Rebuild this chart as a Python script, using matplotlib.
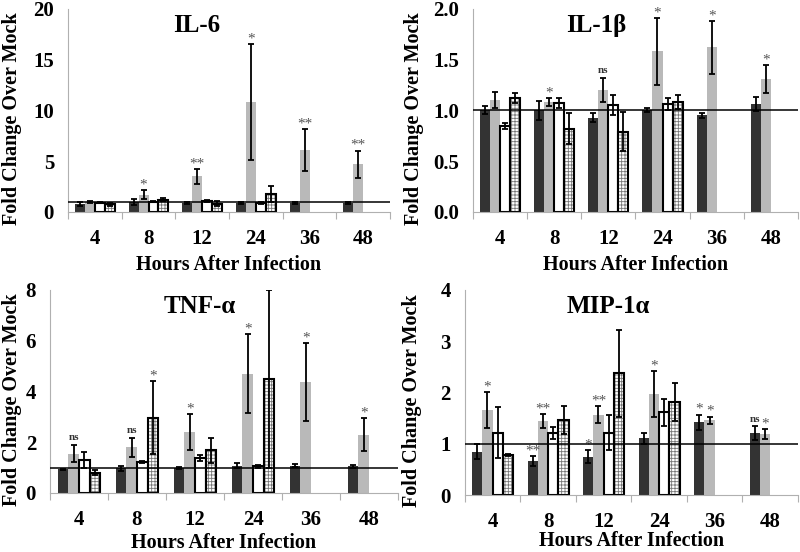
import numpy as np
import matplotlib.pyplot as plt

plt.rcParams['font.family'] = ['Liberation Serif', 'DejaVu Serif']

hours = ['4', '8', '12', '24', '36', '48']
nan = np.nan

# rows: dark, gray, white, hatched ; columns: hours
il6_mean = [[0.80, 1.00, 0.85, 0.85, 0.90, 0.90],
            [1.00, 1.70, 3.50, 10.8, 6.10, 4.70],
            [0.90, 1.00, 1.05, 0.90, nan, nan],
            [0.75, 1.20, 0.80, 1.75, nan, nan]]
il6_err = [[0.20, 0.30, 0.10, 0.10, 0.10, 0.10],
           [0.10, 0.45, 0.70, 5.70, 2.10, 1.35],
           [0.05, 0.05, 0.10, 0.10, nan, nan],
           [0.15, 0.15, 0.25, 0.80, nan, nan]]
il6_marks = [(1, 1, '*'), (2, 1, '**'), (3, 1, '*'), (4, 1, '**'), (5, 1, '**')]

il1b_mean = [[1.00, 1.00, 0.93, 1.00, 0.95, 1.06],
             [1.10, 1.08, 1.20, 1.58, 1.62, 1.31],
             [0.85, 1.07, 1.05, 1.06, nan, nan],
             [1.12, 0.82, 0.79, 1.08, nan, nan]]
il1b_err = [[0.04, 0.09, 0.04, 0.02, 0.02, 0.07],
            [0.08, 0.04, 0.12, 0.33, 0.26, 0.14],
            [0.03, 0.05, 0.10, 0.06, nan, nan],
            [0.05, 0.15, 0.19, 0.07, nan, nan]]
il1b_marks = [(1, 1, '*'), (2, 1, 'ns'), (3, 1, '*'), (4, 1, '*'), (5, 1, '*')]

tnf_mean = [[0.93, 0.98, 1.00, 1.08, 1.08, 1.05],
            [1.55, 1.80, 2.40, 4.70, 4.38, 2.30],
            [1.30, 1.22, 1.37, 1.05, nan, nan],
            [0.80, 2.97, 1.68, 4.50, nan, nan]]
tnf_err = [[0.03, 0.10, 0.04, 0.10, 0.06, 0.05],
           [0.35, 0.38, 0.70, 1.55, 1.53, 0.65],
           [0.30, 0.05, 0.13, 0.05, nan, nan],
           [0.10, 1.42, 0.50, 3.50, nan, nan]]
tnf_marks = [(0, 1, 'ns'), (1, 1, 'ns'), (1, 3, '*'), (2, 1, '*'), (3, 1, '*'),
             (4, 1, '*'), (5, 1, '*')]

mip_mean = [[0.85, 0.66, 0.75, 1.11, 1.42, 1.21],
            [1.65, 1.44, 1.57, 1.97, 1.46, 1.19],
            [1.22, 1.21, 1.22, 1.61, nan, nan],
            [0.78, 1.47, 2.37, 1.81, nan, nan]]
mip_err = [[0.15, 0.10, 0.13, 0.11, 0.15, 0.13],
           [0.35, 0.14, 0.17, 0.45, 0.07, 0.09],
           [0.49, 0.12, 0.35, 0.26, nan, nan],
           [0.02, 0.27, 0.85, 0.37, nan, nan]]
mip_marks = [(0, 1, '*'), (1, 0, '**'), (1, 1, '**'), (2, 0, '*'), (2, 1, '**'),
             (3, 1, '*'), (4, 0, '*'), (4, 1, '*'), (5, 0, 'ns'), (5, 1, '*')]

panels = [
    ('IL-6', il6_mean, il6_err, il6_marks, [0, 5, 10, 15, 20], '%d',
     [0.085, 0.616, 0.4025, 0.368], 0.40, (-0.143, 0.46), -0.21),
    ('IL-1\u03b2', il1b_mean, il1b_err, il1b_marks, [0, 0.5, 1.0, 1.5, 2.0], '%.1f',
     [0.591, 0.616, 0.4065, 0.368], 0.38, (-0.151, 0.46), -0.21),
    ('TNF-\u03b1', tnf_mean, tnf_err, tnf_marks, [0, 2, 4, 6, 8], '%d',
     [0.0625, 0.107, 0.435, 0.368], 0.43, (-0.08, 0.46), -0.197),
    ('MIP-1\u03b1', mip_mean, mip_err, mip_marks, [0, 1, 2, 3, 4], '%d',
     [0.581, 0.103, 0.4165, 0.372], 0.43, (-0.129, 0.46), -0.177),
]

face = ['#333333', '#b9b9b9', 'white', 'white']
edge = ['#333333', '#b9b9b9', 'black', 'black']
lw = [0, 0, 1.5, 1.5]
w = 0.185

plt.rcParams['hatch.linewidth'] = 0.6

fig = plt.figure(figsize=(8, 5.52), dpi=100)

for title, mean, err, marks, yt, fmt, rect, tx, ylc, xly in panels:
    ax = fig.add_axes(rect)
    x = np.arange(len(hours)) + 0.5
    mean = np.array(mean)
    err = np.array(err)
    for i in range(4):
        xs = x + (i - 1.5) * w
        if i == 3:
            # grid fill in gray, outline in black
            ax.bar(xs, mean[i], width=w, color='white', edgecolor='#777777',
                   linewidth=0, hatch='+++++', zorder=2)
            ax.bar(xs, mean[i], width=w, fill=False, edgecolor='black',
                   linewidth=lw[i], zorder=2)
        else:
            ax.bar(xs, mean[i], width=w, color=face[i], edgecolor=edge[i],
                   linewidth=lw[i], zorder=2)
        ax.errorbar(xs, mean[i], yerr=err[i], fmt='none', ecolor='black',
                    elinewidth=1.3, capsize=2, capthick=1.3, zorder=3)
    ax.axhline(1, color='black', lw=1.1, zorder=4)
    ymax = yt[-1]
    ax.set_ylim(0, ymax)
    ax.set_xlim(0, len(hours))
    for c, s, txt in marks:
        top = min(mean[s][c] + err[s][c], ymax)
        if txt == 'ns':
            ax.annotate(txt, (x[c] + (s - 1.5) * w, top), xytext=(0, 2),
                        textcoords='offset points', ha='center', va='bottom',
                        fontsize=8, fontweight='bold', color='#333333')
        else:
            ax.annotate(txt, (x[c] + (s - 1.5) * w, top), xytext=(0, -1),
                        textcoords='offset points', ha='center', va='bottom',
                        fontsize=11, color='#555555')
    ax.text(tx, 0.975, title, transform=ax.transAxes, ha='center', va='top',
            fontsize=18, fontweight='bold')

    ax.set_yticks(yt)
    ax.set_yticklabels([fmt % v for v in yt], fontsize=15, fontweight='bold')
    ax.tick_params(axis='y', length=0, pad=10)
    ax.set_xticks(np.arange(len(hours) + 1))
    ax.set_xticklabels([])
    ax.tick_params(axis='x', which='major', length=5, color='#b0b0b0')
    ax.set_xticks(x, minor=True)
    ax.set_xticklabels(hours, minor=True, fontsize=15, fontweight='bold')
    ax.tick_params(axis='x', which='minor', length=0, pad=12)

    for sp in ['top', 'right']:
        ax.spines[sp].set_visible(False)
    for sp in ['left', 'bottom']:
        ax.spines[sp].set_color('#b0b0b0')
        ax.spines[sp].set_linewidth(0.8)

    ax.set_ylabel('Fold Change Over Mock', fontsize=14.5, fontweight='bold')
    ax.yaxis.set_label_coords(*ylc)
    ax.set_xlabel('Hours After Infection', fontsize=14.5, fontweight='bold')
    ax.xaxis.set_label_coords(0.5, xly)

fig.savefig('out.png', dpi=100)
